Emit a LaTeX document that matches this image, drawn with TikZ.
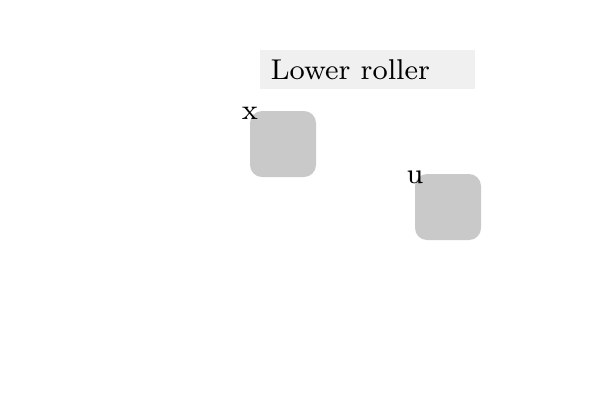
\documentclass[tikz,border=0pt]{standalone}
\begin{document}
\begin{tikzpicture}[x=1pt,y=-1pt,
  titlebox/.style={fill=black!6, draw=none, minimum width=215pt, minimum height=39pt, inner sep=0pt},
  blockbox/.style={fill=black!21, draw=none, rounded corners=12pt, minimum width=66pt, minimum height=66pt, inner sep=0pt},
  smalltext/.style={inner sep=0pt, font=\fontsize{8}{10}\selectfont, scale=3.58, transform shape}]
\useasboundingbox (0,0) rectangle (600,400);
\node[titlebox] (title) at (367.5,69.5) {};
\node[smalltext, anchor=base west] (titletext) at (270,79.5) {Lower roller};
\node[blockbox] (bx) at (283,144) {};
\node[blockbox] (bu) at (448,207) {};
\node[smalltext] (lx) at (250,113) {x};
\node[smalltext] (lu) at (415,177) {u};
\end{tikzpicture}
\end{document}
